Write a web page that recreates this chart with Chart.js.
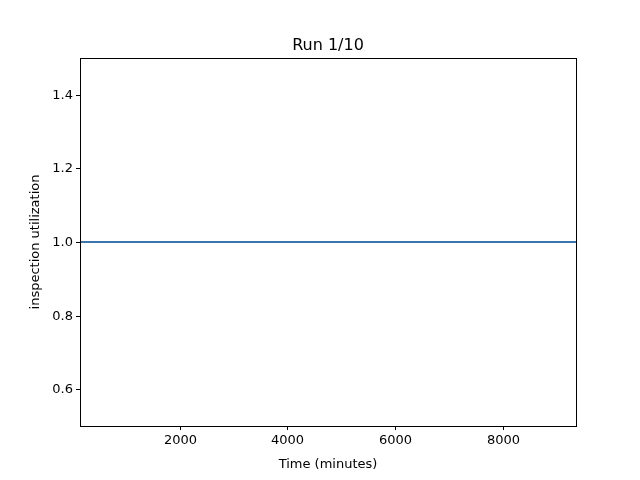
<!DOCTYPE html>
<html><head><meta charset="utf-8">
<script src="https://cdn.jsdelivr.net/npm/chart.js@4"></script>
<style>html,body{margin:0;padding:0;background:#fff}</style>
</head><body>
<canvas id="c" width="640" height="480" style="width:640px;height:480px"></canvas>
<script>
const timeMinutes = [140, 9367];
const utilization = [1.0, 1.0];
const xTicks = [2000, 4000, 6000, 8000];
const yTicks = [0.6, 0.8, 1.0, 1.2, 1.4];
const FONT = 'DejaVu Sans';
const frame = {
  id: 'frame',
  afterDraw(c) {
    const {ctx, chartArea: a} = c;
    const sx = c.scales.x, sy = c.scales.y;
    ctx.save();
    ctx.strokeStyle = '#000'; ctx.lineWidth = 1;
    ctx.strokeRect(a.left + 0.5, a.top + 0.5, a.right - a.left, a.bottom - a.top);
    ctx.fillStyle = '#000';
    ctx.font = '13px ' + FONT;
    ctx.textAlign = 'center'; ctx.textBaseline = 'top';
    xTicks.forEach(v => {
      const px = Math.round(sx.getPixelForValue(v)) + 0.5;
      ctx.beginPath(); ctx.moveTo(px, a.bottom); ctx.lineTo(px, a.bottom + 4); ctx.stroke();
      ctx.fillText(String(v), px, a.bottom + 8);
    });
    ctx.textAlign = 'right'; ctx.textBaseline = 'middle';
    yTicks.forEach(v => {
      const py = Math.round(sy.getPixelForValue(v)) + 0.5;
      ctx.beginPath(); ctx.moveTo(a.left, py); ctx.lineTo(a.left - 4, py); ctx.stroke();
      ctx.fillText(v.toFixed(1), a.left - 7, py);
    });
    ctx.textAlign = 'center'; ctx.textBaseline = 'alphabetic';
    ctx.fillText('Time (minutes)', (a.left + a.right) / 2, 468);
    ctx.save();
    ctx.translate(39, (a.top + a.bottom) / 2); ctx.rotate(-Math.PI / 2);
    ctx.fillText('inspection utilization', 0, 0);
    ctx.restore();
    ctx.font = '16px ' + FONT;
    ctx.fillText('Run 1/10', (a.left + a.right) / 2, a.top - 8);
    ctx.restore();
  }
};
new Chart(document.getElementById('c'), {
  type: 'line',
  data: { datasets: [{ data: timeMinutes.map((x, i) => ({x, y: utilization[i]})),
    borderColor: '#3b75af', borderWidth: 2, pointRadius: 0, fill: false }] },
  options: {
    responsive: false, animation: false,
    layout: { padding: { left: 0, top: 58, right: 64, bottom: 0 } },
    plugins: { legend: { display: false }, tooltip: { enabled: false }, title: { display: false } },
    scales: {
      x: { type: 'linear', min: 140, max: 9367,
        afterFit: s => { s.height = 54; },
        grid: { display: false }, border: { display: false },
        ticks: { display: false } },
      y: { type: 'linear', min: 0.5, max: 1.5,
        afterFit: s => { s.width = 80; },
        grid: { display: false }, border: { display: false },
        ticks: { display: false } }
    }
  },
  plugins: [frame]
});
</script>
</body></html>
